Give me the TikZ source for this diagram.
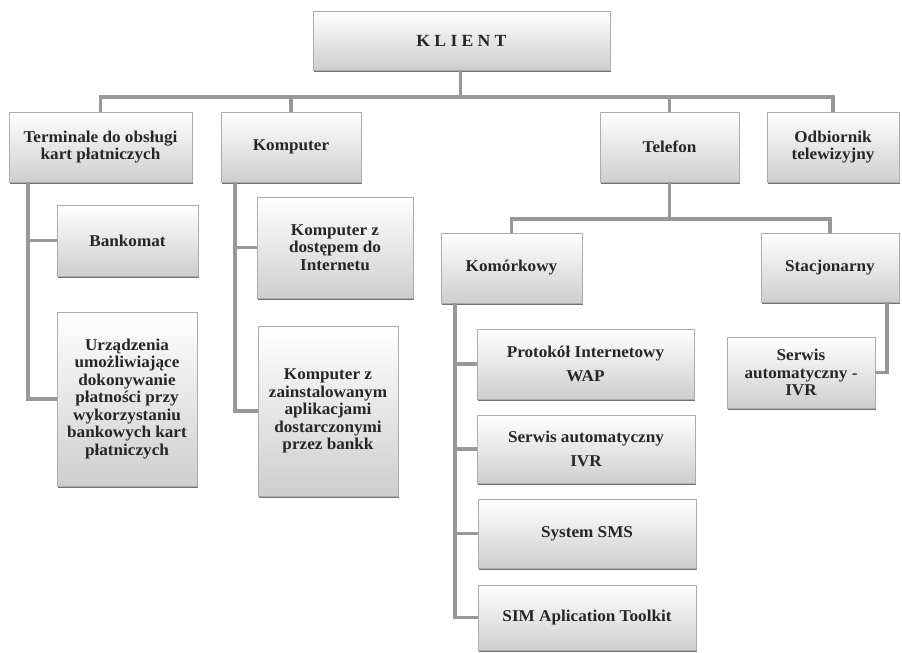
\documentclass[tikz,border=0pt]{standalone}
\usepackage{fontspec}
\setmainfont{Liberation Serif}[FakeStretch=1.04]
\usepackage{tikz}
\usetikzlibrary{shadows}

\definecolor{linegray}{RGB}{152,152,152}
\definecolor{boxline}{RGB}{172,172,172}
\definecolor{boxbottom}{RGB}{206,206,206}

\begin{document}
\begin{tikzpicture}[x=1pt,y=-1pt,
	box/.style={draw=boxline,line width=0.8pt,top color=white,bottom color=boxbottom,
		drop shadow={shadow xshift=1pt,shadow yshift=-1.8pt,fill=black,opacity=.55},
		align=center,inner sep=2pt,text=black!85,
		font=\fontsize{16.5}{17.5}\selectfont\bfseries},
	wide lines/.style={font=\fontsize{16.5}{24}\selectfont\bfseries},
	conn/.style={draw=linegray,line width=3.5pt},
	elbow/.style={to path={|- (\tikztotarget)}}]

	\useasboundingbox (0,0) rectangle (902,653);

	\node[box,minimum width=297pt,minimum height=59pt,
		font=\fontsize{17}{19}\selectfont\bfseries\addfontfeature{LetterSpace=25}] (klient) at (461.5,40.5) {KLIENT};

	\node[box,minimum width=183pt,minimum height=70pt] (term) at (100.5,147) {Terminale do obsługi\\kart płatniczych};
	\node[box,minimum width=140pt,minimum height=70pt] (komp) at (291,147) {Komputer};
	\node[box,minimum width=139pt,minimum height=70pt] (tel) at (669.5,147) {Telefon};
	\node[box,minimum width=132pt,minimum height=70pt] (odb) at (833,147) {Odbiornik\\telewizyjny};

	\node[box,minimum width=141pt,minimum height=71pt] (bank) at (127.5,240.5) {Bankomat};
	\node[box,minimum width=140pt,minimum height=174pt] (urz) at (127,399)
		{Urządzenia\\umożliwiające\\dokonywanie\\płatności przy\\wykorzystaniu\\bankowych kart\\płatniczych};

	\node[box,minimum width=156pt,minimum height=101pt] (kompint) at (335,247.5) {Komputer z\\dostępem do\\Internetu};
	\node[box,minimum width=140pt,minimum height=170pt] (kompapl) at (328,411)
		{Komputer z\\zainstalowanym\\aplikacjami\\dostarczonymi\\przez bankk};

	\node[box,minimum width=141pt,minimum height=70pt] (kom) at (511.5,268) {Komórkowy};
	\node[box,minimum width=138pt,minimum height=69pt] (stac) at (830,267.5) {Stacjonarny};

	\node[box,wide lines,minimum width=217pt,minimum height=70pt] (wap) at (585.5,364) {Protokół Internetowy\\WAP};
	\node[box,wide lines,minimum width=218pt,minimum height=68pt] (ivr) at (586,449) {Serwis automatyczny\\IVR};
	\node[box,minimum width=218pt,minimum height=69pt] (sms) at (587,533.5) {System SMS};
	\node[box,minimum width=218pt,minimum height=65pt] (sim) at (587,617.5) {SIM Aplication Toolkit};

	\node[box,minimum width=148pt,minimum height=71pt] (ivrstac) at (801,372.5) {Serwis\\automatyczny -\\IVR};

	\coordinate (bus) at (460.5,97);
	\coordinate (telbus) at (669.5,219);
	\coordinate (termL) at (28,182);
	\coordinate (kompL) at (235,182);
	\coordinate (komL) at (455,303);
	\coordinate (stacR) at (887,302);

	\path[conn]
	(klient.south -| bus) edge (bus)
	(term.north) edge[elbow] (bus)
	(odb.north) edge[elbow] (bus)
	(komp.north) edge (komp.north |- bus)
	(tel.north) edge (tel.north |- bus)
	(tel.south) edge (telbus)
	(kom.north) edge[elbow] (telbus)
	(stac.north) edge[elbow] (telbus)
	(termL) edge[elbow] (bank.west)
	(termL) edge[elbow] (urz.west)
	(kompL) edge[elbow] (kompint.west)
	(kompL) edge[elbow] (kompapl.west)
	(komL) edge[elbow] (wap.west)
	(komL) edge[elbow] (ivr.west)
	(komL) edge[elbow] (sms.west)
	(komL) edge[elbow] (sim.west)
	(stacR) edge[elbow] (ivrstac.east);
\end{tikzpicture}
\end{document}
